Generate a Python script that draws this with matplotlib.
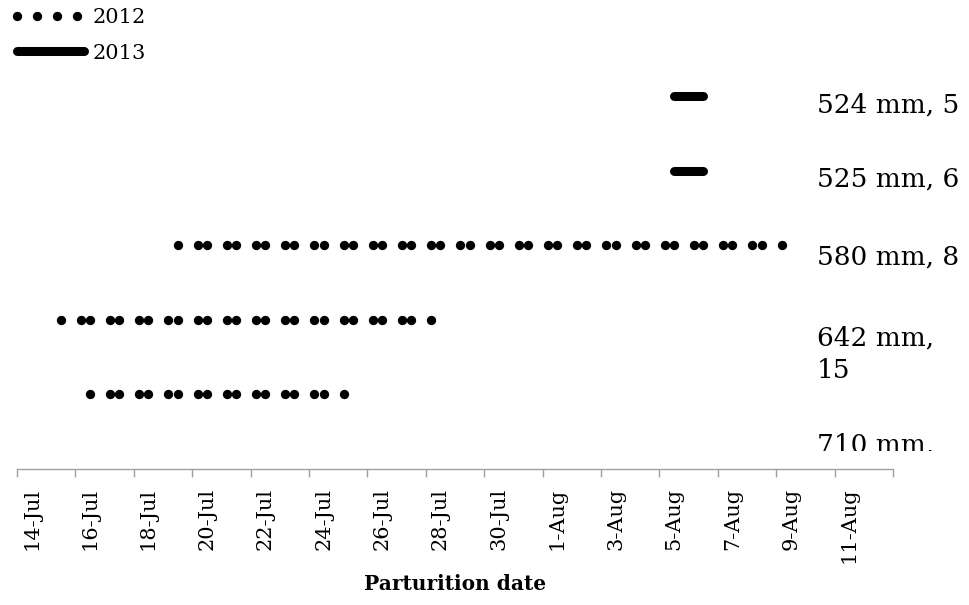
import datetime as dt
import matplotlib
matplotlib.use("Agg")
import matplotlib.pyplot as plt
import matplotlib.dates as mdates
from matplotlib.ticker import FixedLocator, NullFormatter, FixedFormatter
from matplotlib.transforms import Bbox, TransformedBbox

# rainfall / group labels, one row each (top to bottom)
row_labels = ["524 mm, 5", "525 mm, 6", "580 mm, 8", "642 mm,\n15", "710 mm,"]
row_year = ["2013", "2013", "2012", "2012", "2012"]
first_day = ["5-Aug", "5-Aug", "19-Jul", "15-Jul", "16-Jul"]
last_day = ["6-Aug", "6-Aug", "9-Aug", "28-Jul", "25-Jul"]

tick_labels = ["14-Jul", "16-Jul", "18-Jul", "20-Jul", "22-Jul", "24-Jul",
               "26-Jul", "28-Jul", "30-Jul", "1-Aug", "3-Aug", "5-Aug",
               "7-Aug", "9-Aug", "11-Aug"]
axis_start = "14-Jul"
axis_days = 30


def to_num(s):
    return mdates.date2num(dt.datetime.strptime(s + "-2012", "%d-%b-%Y"))


plt.rcParams["font.family"] = "DejaVu Serif"
plt.rcParams["lines.scale_dashes"] = False

styles = {
    "2012": dict(color="black", lw=6.8, linestyle=(0, (0.001, 14.4)),
                 dash_capstyle="round"),
    "2013": dict(color="black", lw=6.5, solid_capstyle="round"),
}

W, H = 969, 605
fig = plt.figure(figsize=(W / 100, H / 100), dpi=100)
ax = fig.add_axes([17 / W, (H - 469) / H, 876 / W, 447.5 / H])

handles = {}
for i, year in enumerate(row_year):
    x0 = to_num(first_day[i])
    n = int(round(to_num(last_day[i]) - x0))
    # each day-to-day segment is drawn on its own, as in the source chart
    for d in range(n):
        ln, = ax.plot([x0 + d + 0.5, x0 + d + 1.5], [i, i], **styles[year])
        handles.setdefault(year, ln)

x_start = to_num(axis_start)
ax.set_xlim(x_start, x_start + axis_days)
ax.set_ylim(len(row_labels), -1)

ax.xaxis.set_major_locator(FixedLocator([x_start + k for k in range(0, axis_days + 1, 2)]))
ax.xaxis.set_major_formatter(NullFormatter())
ax.xaxis.set_minor_locator(FixedLocator([to_num(t) + 0.5 for t in tick_labels]))
ax.xaxis.set_minor_formatter(FixedFormatter(tick_labels))
ax.tick_params(axis="x", which="major", length=5.8, width=1, color="#a0a0a0")
ax.tick_params(axis="x", which="minor", length=0, pad=13.5, labelsize=15,
               labelrotation=90)
ax.set_yticks([])
for side in ["top", "right", "left"]:
    ax.spines[side].set_visible(False)
ax.spines["bottom"].set_color("#a0a0a0")
ax.spines["bottom"].set_linewidth(1)

ax.set_xlabel("Parturition date", fontsize=14.5, fontweight="bold")
ax.xaxis.set_label_coords(0.5, -0.2346)

# labels on the right, baseline of last line (pixels)
label_base_px = [113, 187, 265, 378, 453]
clip = TransformedBbox(Bbox.from_extents(0, (H - 451) / H, 1, 1), fig.transFigure)
for lab, py in zip(row_labels, label_base_px):
    t = fig.text(817 / W, (H - py) / H, lab, fontsize=19, va="baseline",
                 ha="left", linespacing=1.35)
    t.set_clip_on(True)
    t.set_clip_box(clip)

fig.legend([handles["2012"], handles["2013"]], ["2012", "2013"],
           loc="upper left", bbox_to_anchor=(17 / W, 1 - 8 / H),
           frameon=False, fontsize=15, handlelength=3.2, handletextpad=0.45,
           borderpad=0, borderaxespad=0, labelspacing=0.8)

fig.savefig("out.png", dpi=100)
